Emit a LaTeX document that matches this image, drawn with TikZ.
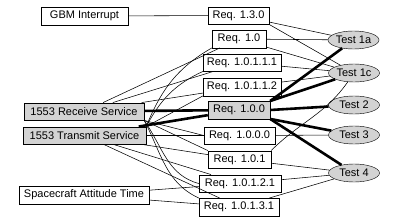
\documentclass[tikz,border=0pt]{standalone}
\usepackage{fontspec}
\setmainfont{Liberation Sans}
\usetikzlibrary{shapes.geometric}
\definecolor{boxgray}{RGB}{211,211,211}

\begin{document}
\begin{tikzpicture}[x=1pt, y=1pt,
    box/.style={draw, fill=white, minimum height=17.5pt, inner sep=0pt, font=\fontsize{11}{13}\selectfont},
    graybox/.style={box, fill=boxgray},
    testnode/.style={ellipse, draw, fill=boxgray, minimum width=51pt, minimum height=18pt, inner sep=0pt, font=\fontsize{11}{13}\selectfont},
    link/.style={line width=0.55pt},
    mainlink/.style={line width=2.6pt}]
    \useasboundingbox (0,0) rectangle (393,223);

    % Sources
    \node[box, minimum width=87pt] (gbm) at (84.5,207) {GBM Interrupt};
    \node[graybox, minimum width=120pt] (rcv) at (84,111.5) {1553 Receive Service};
    \node[graybox, minimum width=123pt] (trn) at (84.5,87.5) {1553 Transmit Service};
    \node[box, minimum width=130pt] (sat) at (84,28) {Spacecraft Attitude Time};

    % Requirements
    \node[box, minimum width=61pt] (r130) at (238.5,207.5) {Req. 1.3.0};
    \node[box, minimum width=54pt] (r10) at (239,184) {Req. 1.0};
    \node[box, minimum width=78pt] (r10111) at (242,160.5) {Req. 1.0.1.1.1};
    \node[box, minimum width=78pt] (r10112) at (242,136) {Req. 1.0.1.1.2};
    \node[graybox, minimum width=62pt] (r100) at (239,113) {Req. 1.0.0};
    \node[box, minimum width=71pt] (r1000) at (239.5,87.5) {Req. 1.0.0.0};
    \node[box, minimum width=63pt] (r101) at (239.5,63.5) {Req. 1.0.1};
    \node[box, minimum width=82pt] (r10121) at (240,39.5) {Req. 1.0.1.2.1};
    \node[box, minimum width=80pt] (r10131) at (239,16) {Req. 1.0.1.3.1};

    % Tests
    \node[testnode] (t1a) at (353.5,183) {Test 1a};
    \node[testnode] (t1c) at (354,150) {Test 1c};
    \node[testnode] (t2) at (354,118) {Test 2};
    \node[testnode] (t3) at (354,88) {Test 3};
    \node[testnode] (t4) at (354,50) {Test 4};

    % Sources to requirements
    \draw[link] (gbm) -- (r130);
    \draw[link] (rcv) -- (r10);
    \draw[link] (rcv) -- (r10111);
    \draw[link] (rcv) -- (r10112);
    \draw[link] (rcv.south east) -- (r1000.west);
    \draw[link] (rcv.south east) -- (r101.north west);
    \draw[link] (rcv.south east) to[out=-55,in=165] (r10121.west);
    \draw[link] (rcv.south east) to[out=-62,in=155] (r10131.north west);
    \draw[link] (trn.north east) to[out=68,in=210] (r10.south west);
    \draw[link] (trn.north east) to[out=62,in=205] (r10111.south west);
    \draw[link] (trn.north east) -- (r10112.south west);
    \draw[link] (trn) -- (r1000);
    \draw[link] (trn) -- (r101);
    \draw[link] (trn) -- (r10121);
    \draw[link] (trn) -- (r10131);
    \draw[link] (sat) -- (r10121);
    \draw[link] (sat) -- (r10131);
    \draw[mainlink] (rcv) -- (r100);
    \draw[mainlink] (trn) -- (r100);

    % Requirements to tests
    \draw[link] (r130) -- (t1a);
    \draw[link] (r130.south east) -- (t1c);
    \draw[link] (r10) -- (t1a);
    \draw[link] (r10) -- (t1c);
    \draw[link] (r10111) -- (t1c);
    \draw[link] (r10112) -- (t1c);
    \draw[link] (r1000) -- (t3);
    \draw[link] (r101) -- (t4);
    \draw[link] (r101.north east) to[out=45,in=235] (t1c);
    \draw[link] (r10121) -- (t4);
    \draw[link] (r10131) -- (t4);
    \draw[mainlink] (r100.north east) -- (t1a);
    \draw[mainlink] (r100.north east) -- (t1c);
    \draw[mainlink] (r100.east) -- (t2);
    \draw[mainlink] (r100.south east) -- (t3);
    \draw[mainlink] (r100.south east) -- (t4);

\end{tikzpicture}
\end{document}
